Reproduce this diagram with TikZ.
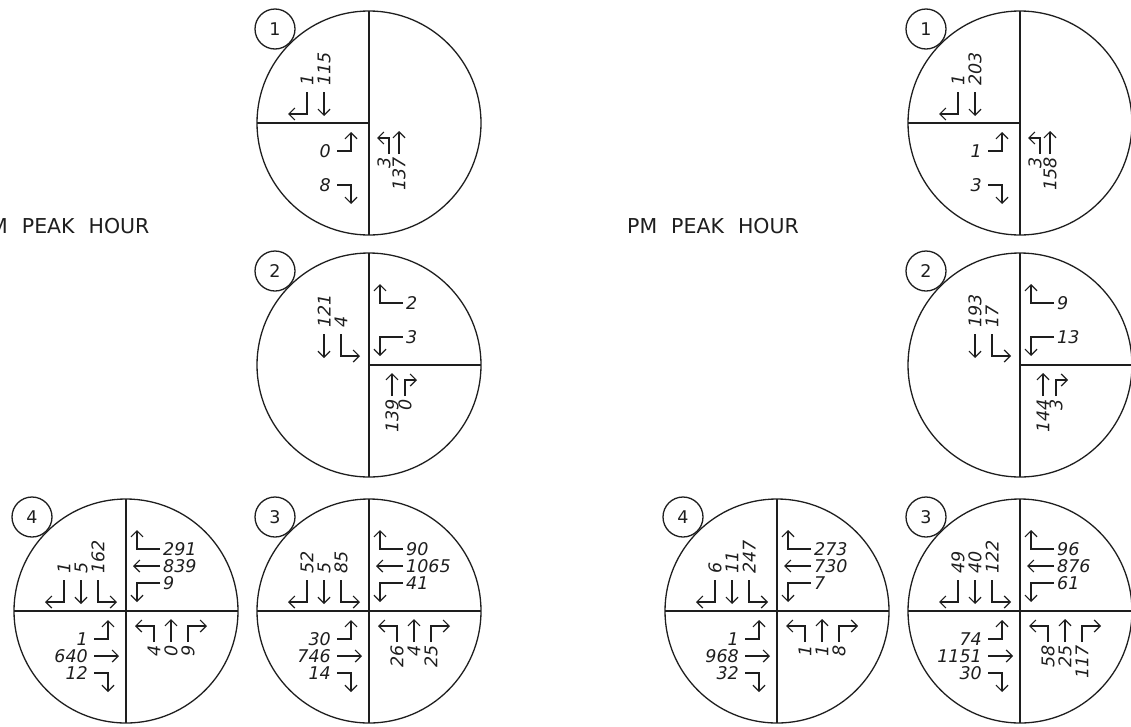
\documentclass[tikz,border=0pt]{standalone}
\usepackage{fontspec}
\setmainfont{DejaVu Sans}
\usetikzlibrary{arrows.meta}
\definecolor{ink}{RGB}{30,30,30}
\tikzset{
  ln/.style={draw=ink, line width=1.3pt},
  arr/.style={draw=ink, line width=1.2pt, -{Straight Barb[length=6pt,width=12pt]}},
  num/.style={font=\fontsize{17.5}{20}\selectfont\itshape, text=ink, inner sep=0pt},
  tag/.style={font=\fontsize{17.5}{20}\selectfont, text=ink, inner sep=0pt},
  ttl/.style={font=\fontsize{20.5}{22}\selectfont, text=ink, inner sep=0pt, anchor=base west},
  lbl/.style={}
}
\def\lg{19}
% movements in the canonical (southbound) frame; optional text offset
\newcommand{\mvR}[3][0]{\draw[arr] (#2,\sA) -- (#2,\sB) -- ({#2-\lg},\sB); \node[num,lbl] at ({#2+#1},\sT) {#3};}
\newcommand{\mvT}[3][0]{\draw[arr] (#2,\sA) -- (#2,\sC); \node[num,lbl] at ({#2+#1},\sT) {#3};}
\newcommand{\mvL}[3][0]{\draw[arr] (#2,\sA) -- (#2,\sB) -- ({#2+\lg},\sB); \node[num,lbl] at ({#2+#1},\sT) {#3};}
% approaches
\newcommand{\SB}[2]{\begin{scope}[shift={#1}]\def\sA{31}\def\sB{9}\def\sC{7}\def\sT{37}\tikzset{lbl/.style={rotate=90,anchor=west}}#2\end{scope}}
\newcommand{\EB}[2]{\begin{scope}[shift={#1},rotate=90]\def\sA{32}\def\sB{18}\def\sC{7}\def\sT{38}\tikzset{lbl/.style={anchor=east}}#2\end{scope}}
\newcommand{\NB}[2]{\begin{scope}[shift={#1},rotate=180]\def\sA{31}\def\sB{15}\def\sC{8}\def\sT{34}\tikzset{lbl/.style={rotate=90,anchor=east}}#2\end{scope}}
\newcommand{\WB}[2]{\begin{scope}[shift={#1},rotate=270]\def\sA{34}\def\sB{11}\def\sC{7}\def\sT{37}\tikzset{lbl/.style={anchor=west}}#2\end{scope}}
% ring: center, label, line mode (0 full, 1 left half, 2 right half)
\newcommand{\ring}[4]{%
  \draw[ln] (#1,#2) circle (112);
  \draw[ln] (#1,#2+112) -- (#1,#2-112);
  \ifcase#4
    \draw[ln] (#1-112,#2) -- (#1+112,#2);
  \or
    \draw[ln] (#1-112,#2) -- (#1,#2);
  \or
    \draw[ln] (#1,#2) -- (#1+112,#2);
  \fi
  \draw[ln] (#1-94,#2+94) circle (20);
  \node[tag] (#3) at (#1-94,#2+94) {#3};
}
\begin{document}
\begin{tikzpicture}[x=1pt,y=1pt]
\useasboundingbox (0,0) rectangle (1131,-726);
\clip (0,0) rectangle (1131,-726);

\node[ttl] (amtitle) at (-24,-233) {AM\hspace{14pt}PEAK\hspace{14pt}HOUR};
\node[ttl] (pmtitle) at (627,-233) {PM\hspace{14pt}PEAK\hspace{14pt}HOUR};

% ================= AM =================
\begin{scope}
\ring{369}{-123}{1}{1}
\SB{(369,-123)}{\mvR{-62}{1}\mvT{-45}{115}}
\EB{(369,-123)}{\mvL{-28}{0}\mvR{-62}{8}}
\NB{(369,-123)}{\def\lg{12}\mvL[5]{-20}{3}\mvT{-30}{137}}

\ring{369}{-365}{2}{2}
\SB{(369,-365)}{\mvT{-45}{121}\mvL{-28}{4}}
\WB{(369,-365)}{\mvR{-62}{2}\mvL{-28}{3}}
\NB{(369,-365)}{\def\lg{12}\mvT{-23}{139}\mvR{-36}{0}}

\ring{369}{-611}{3}{0}
\SB{(369,-611)}{\mvR{-62}{52}\mvT{-45}{5}\mvL{-28}{85}}
\WB{(369,-611)}{\mvR{-62}{90}\mvT{-45}{1065}\mvL{-28}{41}}
\EB{(369,-611)}{\mvL{-28}{30}\mvT{-45}{746}\mvR{-62}{14}}
\NB{(369,-611)}{\mvL{-28}{26}\mvT{-45}{4}\mvR{-62}{25}}

\ring{126}{-611}{4}{0}
\SB{(126,-611)}{\mvR{-62}{1}\mvT{-45}{5}\mvL{-28}{162}}
\WB{(126,-611)}{\mvR{-62}{291}\mvT{-45}{839}\mvL{-28}{9}}
\EB{(126,-611)}{\mvL{-28}{1}\mvT{-45}{640}\mvR{-62}{12}}
\NB{(126,-611)}{\mvL{-28}{4}\mvT{-45}{0}\mvR{-62}{9}}
\end{scope}

% ================= PM =================
\begin{scope}[xshift=651pt]
\ring{369}{-123}{1}{1}
\SB{(369,-123)}{\mvR{-62}{1}\mvT{-45}{203}}
\EB{(369,-123)}{\mvL{-28}{1}\mvR{-62}{3}}
\NB{(369,-123)}{\def\lg{12}\mvL[5]{-20}{3}\mvT{-30}{158}}

\ring{369}{-365}{2}{2}
\SB{(369,-365)}{\mvT{-45}{193}\mvL{-28}{17}}
\WB{(369,-365)}{\mvR{-62}{9}\mvL{-28}{13}}
\NB{(369,-365)}{\def\lg{12}\mvT{-23}{144}\mvR{-36}{3}}

\ring{369}{-611}{3}{0}
\SB{(369,-611)}{\mvR{-62}{49}\mvT{-45}{40}\mvL{-28}{122}}
\WB{(369,-611)}{\mvR{-62}{96}\mvT{-45}{876}\mvL{-28}{61}}
\EB{(369,-611)}{\mvL{-28}{74}\mvT{-45}{1151}\mvR{-62}{30}}
\NB{(369,-611)}{\mvL{-28}{58}\mvT{-45}{25}\mvR{-62}{117}}

\ring{126}{-611}{4}{0}
\SB{(126,-611)}{\mvR{-62}{6}\mvT{-45}{11}\mvL{-28}{247}}
\WB{(126,-611)}{\mvR{-62}{273}\mvT{-45}{730}\mvL{-28}{7}}
\EB{(126,-611)}{\mvL{-28}{1}\mvT{-45}{968}\mvR{-62}{32}}
\NB{(126,-611)}{\mvL{-28}{1}\mvT{-45}{1}\mvR{-62}{8}}
\end{scope}
\end{tikzpicture}
\end{document}
